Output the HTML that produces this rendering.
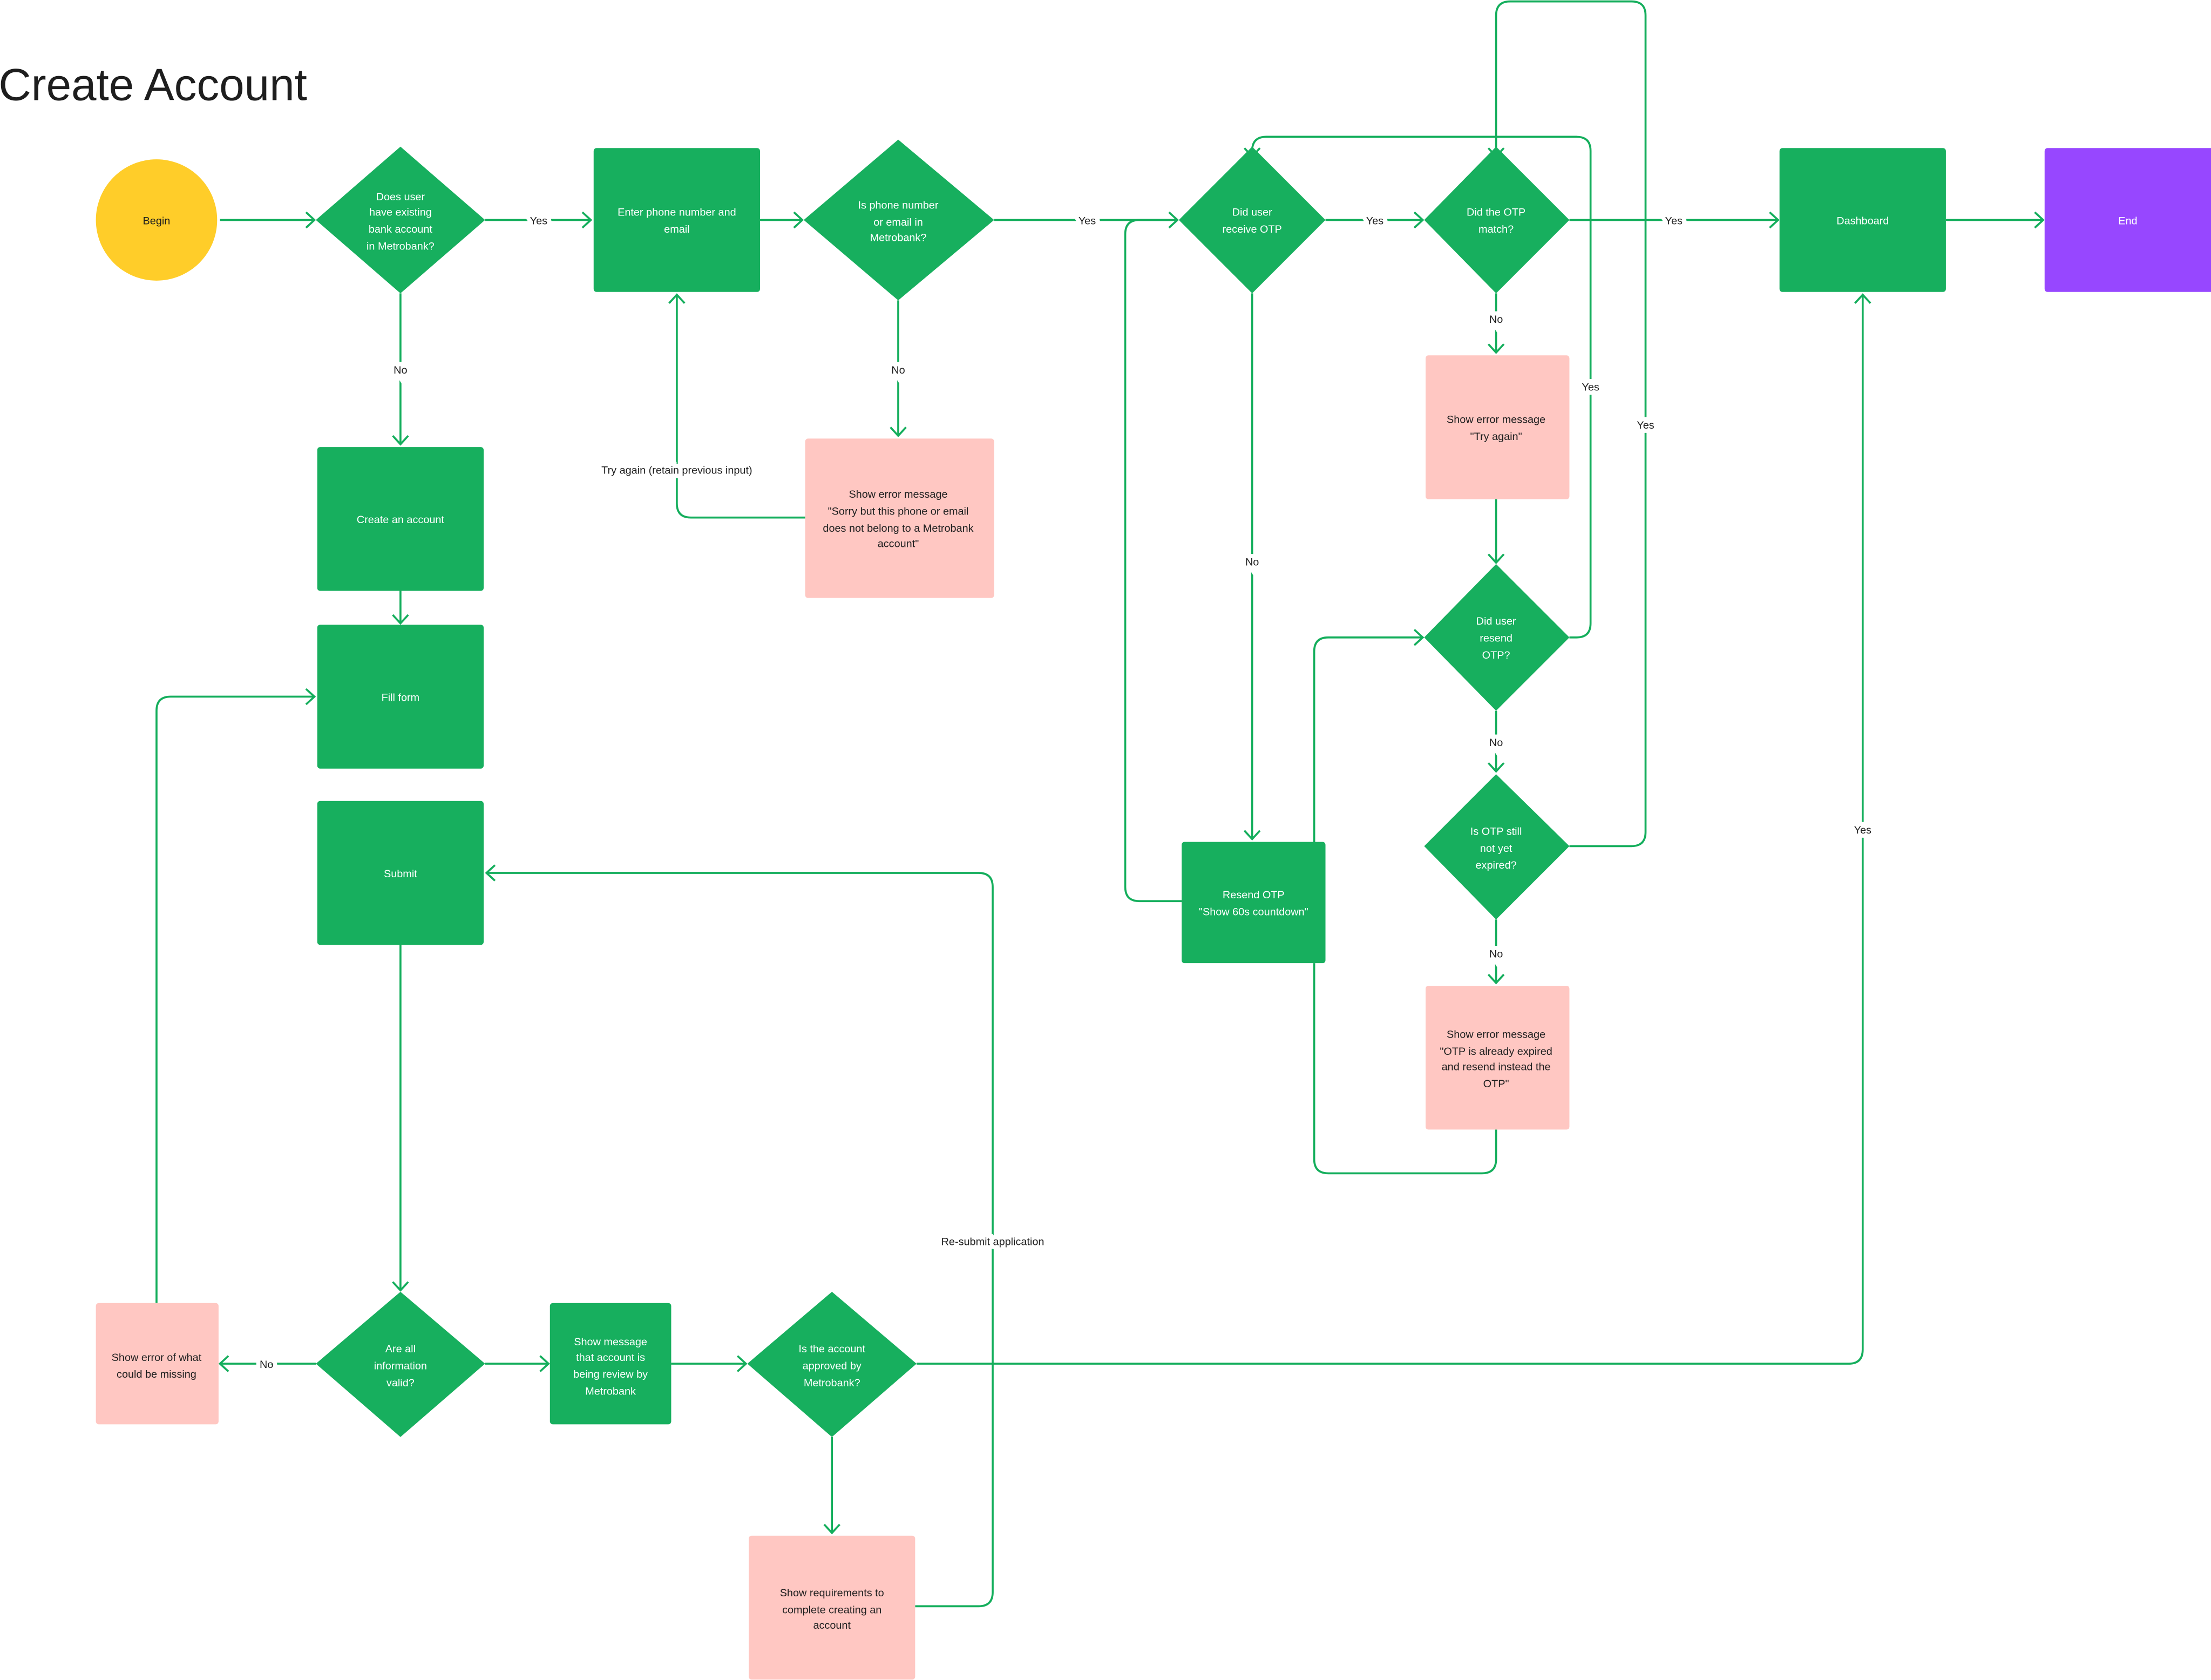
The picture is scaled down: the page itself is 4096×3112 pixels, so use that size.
<!DOCTYPE html>
<html><head><meta charset="utf-8"><style>
html,body{margin:0;padding:0;background:#fff;}
svg{display:block;}
text{font-family:"Liberation Sans",sans-serif;}
.n{fill:#fff;font-size:7.6px;text-anchor:middle;}
.d{fill:#1e1e1e;font-size:7.6px;text-anchor:middle;}
.l{fill:#1e1e1e;font-size:7.6px;text-anchor:middle;stroke:#fff;stroke-width:6;paint-order:stroke;}
.c{fill:none;stroke:#14AE5C;stroke-width:1.4;}
.a{fill:none;stroke:#14AE5C;stroke-width:1.4;marker-end:url(#ar);}
.g{fill:#17AF5E;}
.p{fill:#FFC7C2;}
</style></head><body>
<svg width="4096" height="3112" viewBox="0 0 1568 1191.3" preserveAspectRatio="none" xmlns="http://www.w3.org/2000/svg">
<defs>
<marker id="ar" markerUnits="userSpaceOnUse" markerWidth="12" markerHeight="14" refX="7" refY="6" orient="auto">
<path d="M1,0.5 L7,6 L1,11.5" fill="none" stroke="#14AE5C" stroke-width="1.4"/>
</marker>
</defs>
<rect width="1568" height="1192" fill="#fff"/>
<text x="-1" y="71" style="font-size:32px;fill:#1e1e1e">Create Account</text>

<!-- connectors -->
<path class="a" d="M156 156 H223"/>
<path class="a" d="M344 156 H419"/>
<path class="a" d="M539 156 H569"/>
<path class="a" d="M705 156 H835"/>
<path class="a" d="M940 156 H1009"/>
<path class="a" d="M1113 156 H1261"/>
<path class="a" d="M1380 156 H1449"/>
<path class="a" d="M284 208 V315"/>
<path class="a" d="M284 419 V442"/>
<path class="a" d="M284 670 V915"/>
<path class="a" d="M224 967 H156"/>
<path class="a" d="M111 924 V504 Q111 494 121 494 H223"/>
<path class="a" d="M344 967 H389"/>
<path class="a" d="M476 967 H529"/>
<path class="a" d="M590 1019 V1087"/>
<path class="a" d="M649 1139 H694 Q704 1139 704 1129 V629 Q704 619 694 619 H345"/>
<path class="a" d="M650 967 H1311 Q1321 967 1321 957 V209"/>
<path class="a" d="M637 213 V309"/>
<path class="a" d="M571 367 H490 Q480 367 480 357 V209"/>
<path class="a" d="M888 208 V595"/>
<path class="c" d="M838 639 H808 Q798 639 798 629 V166 Q798 156 808 156 H834"/>
<path class="a" d="M932 597 V462 Q932 452 942 452 H1009"/>
<path class="c" d="M932 683 V822 Q932 832 942 832 H1051 Q1061 832 1061 822 V801"/>
<path class="a" d="M1061 208 V250"/>
<path class="a" d="M1061 353 V399"/>
<path class="a" d="M1113 452 H1118 Q1128 452 1128 442 V107 Q1128 97 1118 97 H898 Q888 97 888 107 V111"/>
<path class="a" d="M1061 504 V547"/>
<path class="a" d="M1113 600 H1157 Q1167 600 1167 590 V11 Q1167 1 1157 1 H1071 Q1061 1 1061 11 V111"/>
<path class="a" d="M1061 652 V697"/>

<!-- labels -->
<text class="l" x="382" y="159">Yes</text>
<text class="l" x="771" y="159">Yes</text>
<text class="l" x="975" y="159">Yes</text>
<text class="l" x="1187" y="159">Yes</text>
<text class="l" x="284" y="265">No</text>
<text class="l" x="637" y="265">No</text>
<text class="l" x="480" y="336">Try again (retain previous input)</text>
<text class="l" x="888" y="401">No</text>
<text class="l" x="1061" y="229">No</text>
<text class="l" x="1128" y="277">Yes</text>
<text class="l" x="1167" y="304">Yes</text>
<text class="l" x="1061" y="529">No</text>
<text class="l" x="1061" y="679">No</text>
<text class="l" x="189" y="970">No</text>
<text class="l" x="704" y="883">Re-submit application</text>
<text class="l" x="1321" y="591">Yes</text>

<!-- nodes -->
<circle cx="111" cy="156" r="43" fill="#FFCD29"/>
<text class="d" x="111" y="159">Begin</text>

<polygon class="g" points="284,104 344,156 284,208 224,156"/>
<text class="n" x="284" y="142">Does user</text>
<text class="n" x="284" y="153">have existing</text>
<text class="n" x="284" y="165">bank account</text>
<text class="n" x="284" y="177">in Metrobank?</text>

<rect class="g" x="421" y="105" width="118" height="102" rx="2"/>
<text class="n" x="480" y="153">Enter phone number and</text>
<text class="n" x="480" y="165">email</text>

<polygon class="g" points="637,99 705,156 637,213 570,156"/>
<text class="n" x="637" y="148">Is phone number</text>
<text class="n" x="637" y="160">or email in</text>
<text class="n" x="637" y="171">Metrobank?</text>

<polygon class="g" points="888,104 940,156 888,208 836,156"/>
<text class="n" x="888" y="153">Did user</text>
<text class="n" x="888" y="165">receive OTP</text>

<polygon class="g" points="1061,104 1113,156 1061,208 1010,156"/>
<text class="n" x="1061" y="153">Did the OTP</text>
<text class="n" x="1061" y="165">match?</text>

<rect class="g" x="1262" y="105" width="118" height="102" rx="2"/>
<text class="n" x="1321" y="159">Dashboard</text>
<rect x="1450" y="105" width="120" height="102" rx="2" fill="#9747FF"/>
<text class="n" x="1509" y="159">End</text>

<rect class="g" x="225" y="317" width="118" height="102" rx="2"/>
<text class="n" x="284" y="371">Create an account</text>
<rect class="g" x="225" y="443" width="118" height="102" rx="2"/>
<text class="n" x="284" y="497">Fill form</text>
<rect class="g" x="225" y="568" width="118" height="102" rx="2"/>
<text class="n" x="284" y="622">Submit</text>

<rect class="p" x="571" y="311" width="134" height="113" rx="2"/>
<text class="d" x="637" y="353">Show error message</text>
<text class="d" x="637" y="365">"Sorry but this phone or email</text>
<text class="d" x="637" y="377">does not belong to a Metrobank</text>
<text class="d" x="637" y="388">account"</text>

<rect class="p" x="1011" y="252" width="102" height="102" rx="2"/>
<text class="d" x="1061" y="300">Show error message</text>
<text class="d" x="1061" y="312">"Try again"</text>

<polygon class="g" points="1061,400 1113,452 1061,504 1010,452"/>
<text class="n" x="1061" y="443">Did user</text>
<text class="n" x="1061" y="455">resend</text>
<text class="n" x="1061" y="467">OTP?</text>

<polygon class="g" points="1061,549 1113,600 1061,652 1010,600"/>
<text class="n" x="1061" y="592">Is OTP still</text>
<text class="n" x="1061" y="604">not yet</text>
<text class="n" x="1061" y="616">expired?</text>

<rect class="g" x="838" y="597" width="102" height="86" rx="2"/>
<text class="n" x="889" y="637">Resend OTP</text>
<text class="n" x="889" y="649">"Show 60s countdown"</text>

<rect class="p" x="1011" y="699" width="102" height="102" rx="2"/>
<text class="d" x="1061" y="736">Show error message</text>
<text class="d" x="1061" y="748">"OTP is already expired</text>
<text class="d" x="1061" y="759">and resend instead the</text>
<text class="d" x="1061" y="771">OTP"</text>

<rect class="p" x="68" y="924" width="87" height="86" rx="2"/>
<text class="d" x="111" y="965">Show error of what</text>
<text class="d" x="111" y="977">could be missing</text>

<polygon class="g" points="284,916 344,967 284,1019 224,967"/>
<text class="n" x="284" y="959">Are all</text>
<text class="n" x="284" y="971">information</text>
<text class="n" x="284" y="983">valid?</text>

<rect class="g" x="390" y="924" width="86" height="86" rx="2"/>
<text class="n" x="433" y="954">Show message</text>
<text class="n" x="433" y="965">that account is</text>
<text class="n" x="433" y="977">being  review by</text>
<text class="n" x="433" y="989">Metrobank</text>

<polygon class="g" points="590,916 650,967 590,1019 530,967"/>
<text class="n" x="590" y="959">Is the account</text>
<text class="n" x="590" y="971">approved by</text>
<text class="n" x="590" y="983">Metrobank?</text>

<rect class="p" x="531" y="1089" width="118" height="102" rx="2"/>
<text class="d" x="590" y="1132">Show requirements to</text>
<text class="d" x="590" y="1144">complete creating an</text>
<text class="d" x="590" y="1155">account</text>
</svg>
</body></html>
